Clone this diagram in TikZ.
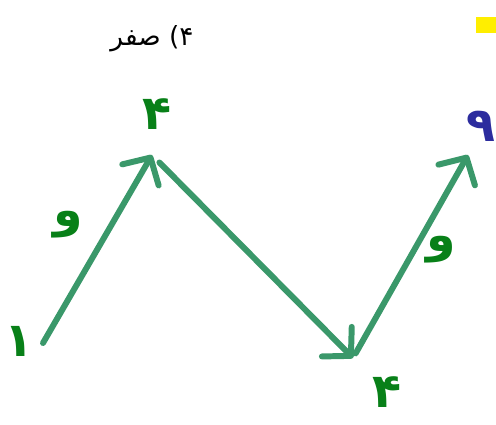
\documentclass[tikz,border=0pt]{standalone}
\usepackage{fontspec}
\newfontfamily\arabicfont[Script=Arabic]{DejaVu Sans}
\TeXXeTstate=1
\usetikzlibrary{arrows.meta}
\definecolor{vecgreen}{RGB}{58,152,106}
\definecolor{lblgreen}{RGB}{8,128,24}
\definecolor{lblblue}{RGB}{44,44,158}
\definecolor{markyellow}{RGB}{255,238,0}

\begin{document}
\begin{tikzpicture}[x=0.02cm, y=-0.02cm,
    vec/.style={draw=vecgreen, line width=3.4pt, line cap=round,
      -{Straight Barb[length=4mm, width=8.4mm, line cap=round, line join=round]}},
    lbl/.style={font=\arabicfont\bfseries\fontsize{27}{27}\selectfont, text=lblgreen, inner sep=0pt}]
  \useasboundingbox (0,0) rectangle (496,425);

  %% Title and marker
  \node[font=\arabicfont\fontsize{15}{15}\selectfont, inner sep=0pt] (title) at (152,39) {\beginR ۴) صفر\endR};
  \fill[markyellow] (476,17) rectangle (496,33);

  %% Points of the path
  \coordinate (p1) at (43,343);
  \coordinate (p2) at (152,155);
  \coordinate (p3) at (353,358);
  \coordinate (p4) at (468,155);

  %% Arrows
  \draw[vec] (p1) -- (p2);
  \draw[vec, shorten <=6pt] (p2) -- (p3);
  \draw[vec, shorten <=3pt] (p3) -- (p4);

  %% Labels
  \node[lbl] (n1) at (19,341) {۱};
  \node[lbl] (n4a) at (157,114) {۴};
  \node[lbl] (w1) at (68,225) {و};
  \node[lbl] (n4b) at (387,392) {۴};
  \node[lbl] (w2) at (441,250) {و};
  \node[lbl, text=lblblue] (n9) at (481,126) {۹};
\end{tikzpicture}
\end{document}
